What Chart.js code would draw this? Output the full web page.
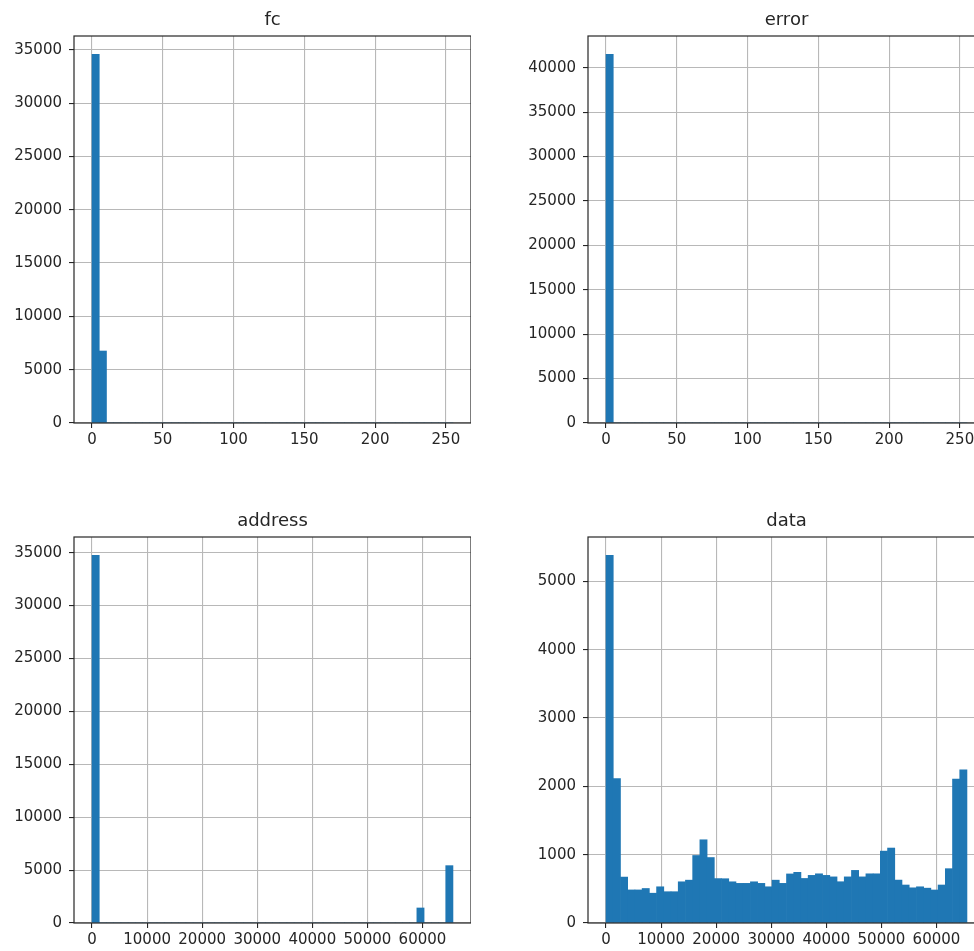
<!DOCTYPE html>
<html>
<head>
<meta charset="utf-8">
<title>hist</title>
<script src="https://cdn.jsdelivr.net/npm/chart.js@4.4.1/dist/chart.umd.min.js"></script>
<style>
  html, body {
    margin: 0;
    padding: 0;
    width: 974px;
    height: 951px;
    overflow: hidden;
    background: #fff;
  }
  canvas {
    position: absolute;
  }
</style>
</head>
<body>
<canvas id="fcChart"></canvas>
<canvas id="errorChart"></canvas>
<canvas id="addressChart"></canvas>
<canvas id="dataChart"></canvas>
<script>
// 50 bins per column, like df.hist(bins=50)
const fcRange = [0, 255];
const fcCounts = [
  34560, 6750, 0, 0, 0, 0, 0, 0, 0, 0,
  0, 0, 0, 0, 0, 0, 0, 0, 0, 0,
  0, 0, 0, 0, 0, 0, 0, 0, 0, 0,
  0, 0, 0, 0, 0, 0, 0, 0, 0, 0,
  0, 0, 0, 0, 0, 0, 0, 0, 0, 0,
];

const errorRange = [0, 255];
const errorCounts = [
  41500, 0, 0, 0, 0, 0, 0, 0, 0, 0,
  0, 0, 0, 0, 0, 0, 0, 0, 0, 0,
  0, 0, 0, 0, 0, 0, 0, 0, 0, 0,
  0, 0, 0, 0, 0, 0, 0, 0, 0, 0,
  0, 0, 0, 0, 0, 0, 0, 0, 0, 0,
];

const addressRange = [0, 65535];
const addressCounts = [
  34740, 0, 0, 0, 0, 0, 0, 0, 0, 0,
  0, 0, 0, 0, 0, 0, 0, 0, 0, 0,
  0, 0, 0, 0, 0, 0, 0, 0, 0, 0,
  0, 0, 0, 0, 0, 0, 0, 0, 0, 0,
  0, 0, 0, 0, 0, 1420, 0, 0, 0, 5420,
];

const dataRange = [0, 65535];
const dataCounts = [
  5380, 2115, 672, 484, 484, 505, 436, 530, 458, 458,
  603, 627, 988, 1218, 958, 650, 648, 603, 580, 580,
  603, 580, 530, 627, 580, 718, 742, 652, 697, 720,
  697, 675, 604, 675, 770, 675, 720, 720, 1052, 1097,
  628, 556, 515, 530, 510, 483, 556, 795, 2105, 2242,
];

// tick labels
const smallXTicks = [0, 50, 100, 150, 200, 250];
const wideXTicks = [0, 10000, 20000, 30000, 40000, 50000, 60000];
const fcYTicks = [0, 5000, 10000, 15000, 20000, 25000, 30000, 35000];
const errorYTicks = [0, 5000, 10000, 15000, 20000, 25000, 30000, 35000, 40000];
const addressYTicks = [0, 5000, 10000, 15000, 20000, 25000, 30000, 35000];
const dataYTicks = [0, 1000, 2000, 3000, 4000, 5000];

const BAR_COLOR = "#1f77b4";
const TEXT_COLOR = "#262626";
const FONT = "DejaVu Sans";

// draws the top/right/bottom/left spines
const framePlugin = {
  id: "frame",
  afterDraw(chart) {
    const { ctx, chartArea: a } = chart;
    ctx.save();
    ctx.strokeStyle = TEXT_COLOR;
    ctx.lineWidth = 1.2;
    ctx.strokeRect(a.left, a.top, a.right - a.left, a.bottom - a.top);
    ctx.restore();
  },
};

const makeHist = (id, title, range, counts, xTicks, yTicks, box) => {
  const canvas = document.getElementById(id);
  canvas.width = box.width;
  canvas.height = box.height;
  canvas.style.left = box.left + "px";
  canvas.style.top = box.top + "px";

  const [lo, hi] = range;
  const binWidth = (hi - lo) / counts.length;
  const margin = (hi - lo) * 0.05;
  const points = counts.map((c, i) => ({ x: lo + (i + 0.5) * binWidth, y: c }));

  const tickFont = { family: FONT, size: 15 };
  const grid = {
    color: "#b8b8b8",
    lineWidth: 1.1,
    tickColor: TEXT_COLOR,
    tickLength: 5,
    drawTicks: true,
    offset: false,
  };

  return new Chart(canvas.getContext("2d"), {
    type: "bar",
    data: {
      datasets: [
        {
          data: points,
          backgroundColor: BAR_COLOR,
          borderWidth: 0,
          barPercentage: 1,
          categoryPercentage: 1,
        },
      ],
    },
    options: {
      responsive: false,
      animation: false,
      devicePixelRatio: 1,
      layout: { padding: 0 },
      plugins: {
        legend: { display: false },
        tooltip: { enabled: false },
        title: {
          display: true,
          text: title,
          fullSize: false,
          color: TEXT_COLOR,
          font: { family: FONT, size: 18, weight: "normal", lineHeight: 1.2 },
          padding: { top: 10, bottom: 4.4 },
        },
      },
      scales: {
        x: {
          type: "linear",
          min: lo - margin,
          max: hi + margin,
          offset: false,
          z: 1,
          grid: grid,
          border: { display: false },
          afterBuildTicks: (s) => {
            s.ticks = xTicks.map((v) => ({ value: v }));
          },
          afterFit: (s) => {
            s.height = 37;
          },
          ticks: {
            font: tickFont,
            color: TEXT_COLOR,
            padding: 3,
            maxRotation: 0,
            autoSkip: false,
            callback: (v) => String(v),
          },
        },
        y: {
          type: "linear",
          min: 0,
          max: Math.max(...counts) * 1.05,
          z: 1,
          grid: grid,
          border: { display: false },
          afterBuildTicks: (s) => {
            s.ticks = yTicks.map((v) => ({ value: v }));
          },
          afterFit: (s) => {
            s.width = 74;
          },
          ticks: {
            font: tickFont,
            color: TEXT_COLOR,
            padding: 7,
            autoSkip: false,
            callback: (v) => String(v),
          },
        },
      },
    },
    plugins: [framePlugin],
  });
};

makeHist("fcChart", "fc", fcRange, fcCounts, smallXTicks, fcYTicks,
  { left: 0, top: 0, width: 471, height: 460 });
makeHist("errorChart", "error", errorRange, errorCounts, smallXTicks, errorYTicks,
  { left: 514, top: 0, width: 471, height: 460 });
makeHist("addressChart", "address", addressRange, addressCounts, wideXTicks, addressYTicks,
  { left: 0, top: 501, width: 471, height: 459 });
makeHist("dataChart", "data", dataRange, dataCounts, wideXTicks, dataYTicks,
  { left: 514, top: 501, width: 471, height: 459 });
</script>
</body>
</html>
